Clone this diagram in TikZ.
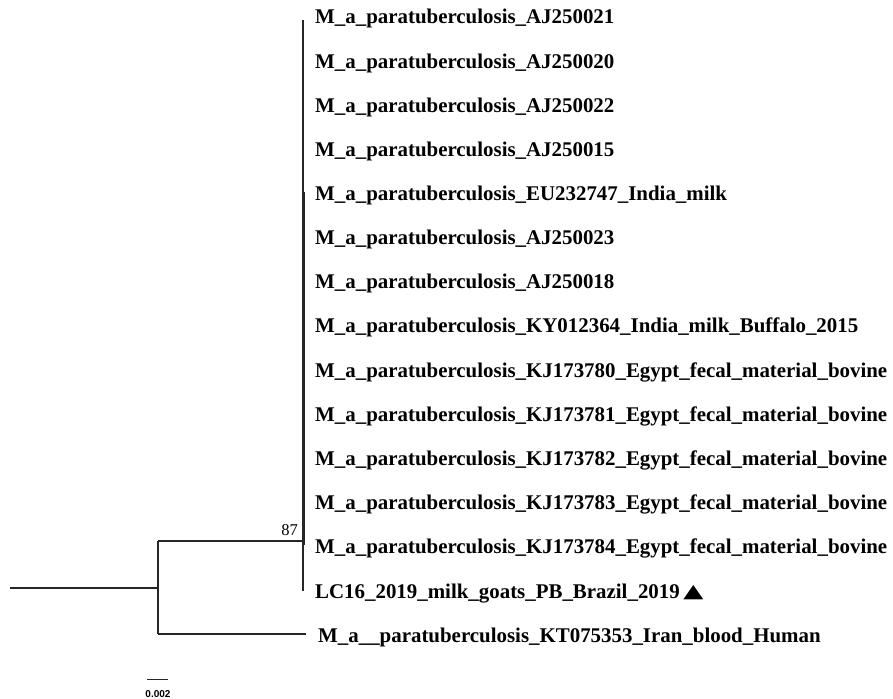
\documentclass[tikz,border=0pt]{standalone}
\usepackage{fontspec}
\setmainfont{Liberation Serif}
\newfontfamily\symfont{DejaVu Sans}
\newfontfamily\barfont{Liberation Sans}
\usepackage{graphicx}
\usepackage{tikz}
\usetikzlibrary{positioning, calc}

\begin{document}
\begin{tikzpicture}[
  x=1pt, y=-1pt,
  branch/.style={draw=black!85, line width=1.3pt},
  leaf/.style={anchor=base west, inner sep=0pt,
    font=\fontsize{20.9}{22}\selectfont\bfseries},
  boot/.style={anchor=base east, inner sep=0pt,
    font=\fontsize{16.5}{18}\selectfont},
  scalebar/.style={anchor=base, inner sep=0pt,
    font=\fontsize{10}{11}\selectfont\barfont\bfseries}
]
  \useasboundingbox (0,0) rectangle (893,698);

  % Tip labels
  \foreach \i/\name in {
    1/M\_a\_paratuberculosis\_AJ250021,
    2/M\_a\_paratuberculosis\_AJ250020,
    3/M\_a\_paratuberculosis\_AJ250022,
    4/M\_a\_paratuberculosis\_AJ250015,
    5/M\_a\_paratuberculosis\_EU232747\_India\_milk,
    6/M\_a\_paratuberculosis\_AJ250023,
    7/M\_a\_paratuberculosis\_AJ250018,
    8/M\_a\_paratuberculosis\_KY012364\_India\_milk\_Buffalo\_2015,
    9/M\_a\_paratuberculosis\_KJ173780\_Egypt\_fecal\_material\_bovine,
    10/M\_a\_paratuberculosis\_KJ173781\_Egypt\_fecal\_material\_bovine,
    11/M\_a\_paratuberculosis\_KJ173782\_Egypt\_fecal\_material\_bovine,
    12/M\_a\_paratuberculosis\_KJ173783\_Egypt\_fecal\_material\_bovine,
    13/M\_a\_paratuberculosis\_KJ173784\_Egypt\_fecal\_material\_bovine}
    \node[leaf] (leaf\i) at (315, {24+44.14*(\i-1)}) {\name};
  \node[leaf] (leaf14) at (315, 598)
    {LC16\_2019\_milk\_goats\_PB\_Brazil\_2019\,%
     \raisebox{1pt}{\scalebox{1.25}[0.9]{\symfont ▲}}};
  \node[leaf] (leaf15) at (318, 642)
    {M\_a\_\_paratuberculosis\_KT075353\_Iran\_blood\_Human};

  % Internal nodes
  \coordinate (root) at (10, 588);
  \coordinate (n0top) at (158, 541);
  \coordinate (n0bot) at (158, 634);
  \coordinate (n87top) at (303, 20);
  \coordinate (n87bot) at (303, 591);

  % Branches
  \draw[branch] (root) -- (root -| n0top);
  \draw[branch] (n0top) -- (n0bot);
  \draw[branch] (n0top) -- (n0top -| n87top);
  \draw[branch] (n0bot) -- ($(leaf15.base west)+(-12,-8)$);
  \draw[branch] (n87top) -- (n87bot);
  \draw[branch, line width=2.2pt] (304, 192) -- (304, 545);

  % Bootstrap value
  \node[boot] (bs87) at (298, 535) {87};

  % Scale bar
  \coordinate (barl) at (147, 679);
  \coordinate (barr) at (168, 679);
  \draw[branch, line width=1pt] (barl) -- (barr);
  \node[scalebar] (barlab) at (158, 697) {0.002};
\end{tikzpicture}
\end{document}
